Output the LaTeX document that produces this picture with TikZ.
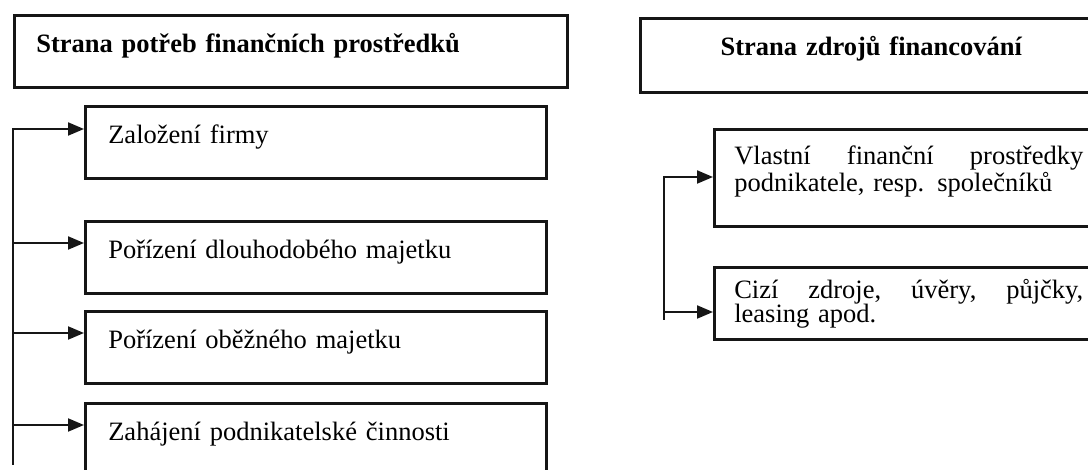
\documentclass[tikz,border=0pt]{standalone}
\usepackage{fontspec}
\setmainfont{Liberation Serif}
\usetikzlibrary{arrows.meta,positioning}
\definecolor{ink}{RGB}{22,22,22}
\tikzset{
  frame/.style={draw=ink,line width=1.3pt,inner xsep=11pt,inner ysep=0pt,anchor=north west,font=\fontsize{13.25}{12.3}\selectfont},
  head/.style={frame,font=\fontsize{13.25}{12.3}\selectfont\bfseries,text height=18.5pt},
  need/.style={frame,inner xsep=11.5pt,text width=207.5pt,align=left,text height=18.75pt,text depth=17.5pt},
  src/.style={frame,inner xsep=10pt,text width=174.5pt,align=left},
  bus/.style={draw=ink,line width=1pt},
  arr/.style={-{Triangle[length=8pt,width=6.5pt]},draw=ink,line width=1pt}
}

\begin{document}
\begin{tikzpicture}[x=0.5pt,y=-0.5pt]
  \useasboundingbox (0,0) rectangle (1088,470);

  \node[head,text width=254.5pt,align=left,text depth=17.5pt] (needhead) at (13,14) {Strana potřeb finančních prostředků};
  \node[head,text width=209pt,align=center,text depth=18.5pt] (srchead) at (639,17) {Strana zdrojů financování};

  \node[need] (zal) at (84,105) {Založení firmy};
  \node[need] (dlouh) at (84,220) {Pořízení dlouhodobého majetku};
  \node[need] (obez) at (84,310) {Pořízení oběžného majetku};
  \node[need] (zahaj) at (84,402) {Zahájení podnikatelské činnosti};

  \node[src,text height=17.5pt,text depth=31pt] (vlast) at (713,128) {Vlastní\hfill finanční\hfill prostředky\\podnikatele, resp. společníků};
  \node[src,text height=15.5pt,text depth=20.5pt] (cizi) at (713,266) {Cizí\hfill zdroje,\hfill úvěry,\hfill půjčky,\\leasing apod.};

  \coordinate (lb1) at (13,129);
  \coordinate (lb2) at (13,243);
  \coordinate (lb3) at (13,333);
  \coordinate (lb4) at (13,425);
  \coordinate (lbend) at (13,465);
  \draw[arr] (lbend) -- (lb1) -- (lb1 -| zal.west);
  \draw[arr] (lb2) -- (lb2 -| dlouh.west);
  \draw[arr] (lb3) -- (lb3 -| obez.west);
  \draw[arr] (lb4) -- (lb4 -| zahaj.west);

  \coordinate (rb1) at (664,177);
  \coordinate (rb2) at (664,312);
  \coordinate (rbend) at (664,320);
  \draw[arr] (rbend) -- (rb1) -- (rb1 -| vlast.west);
  \draw[arr] (rb2) -- (rb2 -| cizi.west);
\end{tikzpicture}
\end{document}
